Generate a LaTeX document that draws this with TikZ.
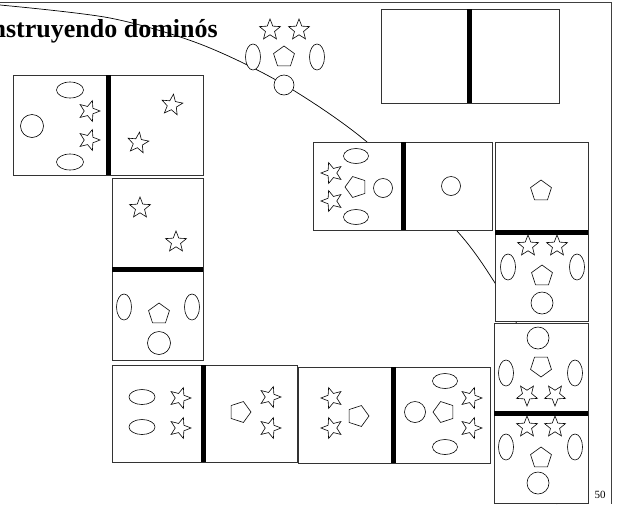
\documentclass[tikz,border=0pt]{standalone}
\usepackage{fontspec}
\setmainfont{Liberation Serif}
\usetikzlibrary{shapes.geometric}
\tikzset{
  shp/.style={draw, fill=white, line width=0.6pt, inner sep=0pt, outer sep=0pt},
  stf/.style={shp, star, star points=5, star point ratio=2.3, minimum size=22pt},
  pen/.style={shp, regular polygon, regular polygon sides=5, minimum size=22pt},
  cir/.style={shp, circle, minimum size=21pt},
  elh/.style={shp, ellipse, minimum width=25pt, minimum height=15pt},
  elv/.style={shp, ellipse, minimum width=15pt, minimum height=26pt},
  dom/.style={draw=black!80, fill=white, line width=0.8pt},
  divider/.style={line width=5pt, line cap=butt},
  frameline/.style={draw=black!75, line width=0.8pt}
}
\begin{document}
\begin{tikzpicture}[x=1pt,y=-1pt]
\useasboundingbox (0,0) rectangle (618,504);
\clip (0,0) rectangle (618,504);
% title
\node[anchor=base east, font=\bfseries\fontsize{26}{30}\selectfont, inner sep=0pt] (title) at (218,37) {Construyendo dominós};
% frame
\draw[frameline] (0,2) -- (611,2) -- (611,504);
% arc
\draw[line width=0.7pt] plot[smooth] coordinates {(0,5) (110,18) (200,44) (283,84) (367,142) (457,231) (495,283) (516,322) (542,400) (557,504)};
% loose pieces at top
\node[stf] (t1) at (270,30) {};
\node[stf] (t2) at (299,30) {};
\node[elv] (t3) at (253,57) {};
\node[pen] (t4) at (284,57) {};
\node[elv] (t5) at (317,57) {};
\node[cir, minimum size=20pt] (t6) at (284,85) {};
% domino 8 (empty, top right)
\draw[dom] (381,9) rectangle (559,103);
\draw[divider] (469,9) -- (469,103);
% domino 1
\draw[dom] (13,75) rectangle (203,175);
\draw[divider] (108,75) -- (108,175);
\node[elh, minimum width=27pt, minimum height=16pt] (a1) at (70,90) {};
\node[stf, rotate=-90] (a2) at (89,111) {};
\node[stf, rotate=-90] (a3) at (89,140) {};
\node[elh, minimum width=27pt, minimum height=16pt] (a4) at (70,162) {};
\node[cir, minimum size=23pt] (a5) at (32,126) {};
\node[stf, rotate=-80] (a6) at (172,105) {};
\node[stf, rotate=-80] (a7) at (138,143) {};
% domino 2
\draw[dom] (112,178) rectangle (203,360);
\draw[divider] (112,269) -- (203,269);
\node[stf] (b1) at (140,208) {};
\node[stf] (b2) at (176,242) {};
\node[elv] (b3) at (124,307) {};
\node[elv] (b4) at (192,307) {};
\node[pen] (b5) at (159,314) {};
\node[cir, minimum size=23pt] (b6) at (159,343) {};
% domino 3
\draw[dom] (112,365) rectangle (297,462);
\draw[divider] (203,365) -- (203,462);
\node[elh, minimum width=26pt] (c1) at (142,397) {};
\node[elh, minimum width=26pt] (c2) at (142,427) {};
\node[stf, rotate=-90] (c3) at (180,398) {};
\node[stf, rotate=-90] (c4) at (180,428) {};
\node[pen, rotate=-90] (c5) at (240,412) {};
\node[stf, rotate=-90] (c6) at (270,397) {};
\node[stf, rotate=-90] (c7) at (270,428) {};
% domino 4
\draw[dom] (298,367) rectangle (490,463);
\draw[divider] (393,367) -- (393,463);
\node[stf, rotate=90] (e1) at (332,398) {};
\node[stf, rotate=90] (e2) at (332,428) {};
\node[pen, rotate=-90] (e3) at (358,416) {};
\node[cir] (e4) at (415,412) {};
\node[pen, rotate=90] (e5) at (444,412) {};
\node[elh] (e6) at (445,381) {};
\node[elh] (e7) at (445,447) {};
\node[stf, rotate=-90] (e8) at (471,398) {};
\node[stf, rotate=-90] (e9) at (471,428) {};
% domino 5
\draw[dom] (494,323) rectangle (588,503);
\draw[divider] (494,413) -- (588,413);
\node[cir, minimum size=22pt] (f1) at (538,338) {};
\node[pen, rotate=180] (f2) at (541,366) {};
\node[elv] (f3) at (506,373) {};
\node[elv] (f4) at (575,373) {};
\node[stf, rotate=180] (f5) at (527,395) {};
\node[stf, rotate=180] (f6) at (555,395) {};
\node[stf] (f7) at (527,427) {};
\node[stf] (f8) at (555,427) {};
\node[elv] (f9) at (506,447) {};
\node[elv] (f10) at (575,447) {};
\node[pen] (f11) at (541,458) {};
\node[cir, minimum size=22pt] (f12) at (538,483) {};
% domino 6
\draw[dom] (495,142) rectangle (588,321);
\draw[divider] (495,232) -- (588,232);
\node[pen] (g1) at (541,191) {};
\node[stf] (g2) at (528,246) {};
\node[stf] (g3) at (557,246) {};
\node[elv] (g4) at (508,267) {};
\node[elv] (g5) at (577,267) {};
\node[pen] (g6) at (542,276) {};
\node[cir, minimum size=22pt] (g7) at (542,303) {};
% domino 7
\draw[dom] (313,142) rectangle (492,230);
\draw[divider] (403,142) -- (403,230);
\node[elh] (h1) at (356,156) {};
\node[elh] (h2) at (356,217) {};
\node[stf, rotate=90] (h3) at (332,173) {};
\node[stf, rotate=90] (h4) at (332,201) {};
\node[pen, rotate=90] (h5) at (356,187) {};
\node[cir, minimum size=19pt] (h6) at (383,188) {};
\node[cir, minimum size=19pt] (h7) at (451,186) {};
% page number
\node[font=\fontsize{11}{12}\selectfont, anchor=base] (pg) at (600,498) {50};
\end{tikzpicture}
\end{document}
